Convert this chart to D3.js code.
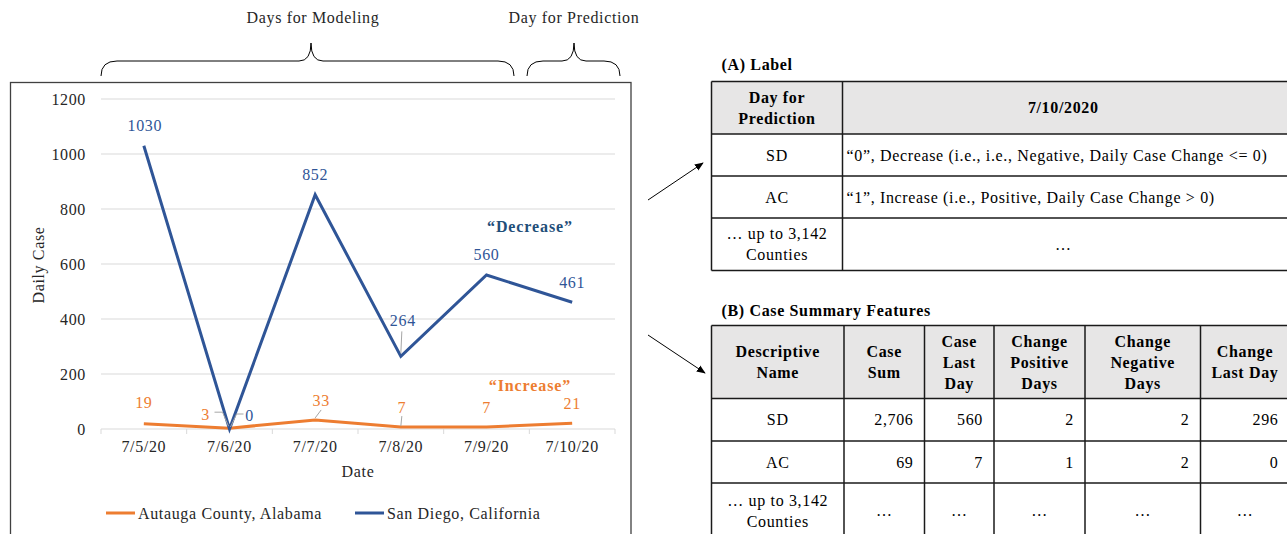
<!DOCTYPE html>
<html>
<head>
<meta charset="utf-8">
<script src="https://cdn.jsdelivr.net/npm/d3@7"></script>
<style>
  html, body { margin: 0; padding: 0; background: #fff; }
  svg { display: block; font-family: "Liberation Serif", "Times New Roman", serif; }
  text { letter-spacing: 0.65px; }
</style>
</head>
<body>
<svg id="fig" width="1287" height="534"></svg>
<script>
// ---- data ----
const dates = ['7/5/20', '7/6/20', '7/7/20', '7/8/20', '7/9/20', '7/10/20'];
const sanDiego = [1030, 0, 852, 264, 560, 461];
const autauga = [19, 3, 33, 7, 7, 21];
const yTicks = [0, 200, 400, 600, 800, 1000, 1200];
const seriesNames = ['Autauga County, Alabama', 'San Diego, California'];

const labelHeader = ['Day for\nPrediction', '7/10/2020'];
const labelRows = [
  ['SD', '\u201C0\u201D, Decrease (i.e., i.e., Negative, Daily Case Change <= 0)'],
  ['AC', '\u201C1\u201D, Increase (i.e., Positive, Daily Case Change > 0)'],
  ['\u2026 up to 3,142\nCounties', '\u2026']
];
const featHeader = ['Descriptive\nName', 'Case\nSum', 'Case\nLast\nDay', 'Change\nPositive\nDays', 'Change\nNegative\nDays', 'Change\nLast Day'];
const featRows = [
  ['SD', '2,706', '560', '2', '2', '296'],
  ['AC', '69', '7', '1', '2', '0'],
  ['\u2026 up to 3,142\nCounties', '\u2026', '\u2026', '\u2026', '\u2026', '\u2026']
];

// label placement (dx, dy from point) for data labels
const blueLabelOff = [[1, -20], [20, -14], [0, -20], [2, -36], [0, -21], [0, -20]];
const orangeLabelOff = [[0, -21], [-24, -14], [6, -20], [1, -20], [0, -20], [0, -20]];

const BLUE = '#2f5597';
const ORANGE = '#ed7d31';
const TXT = '#262626';

const svg = d3.select('#fig');

// arrow marker
svg.append('defs').append('marker')
  .attr('id', 'arr')
  .attr('viewBox', '0 0 10 10')
  .attr('refX', 9).attr('refY', 5)
  .attr('markerWidth', 9).attr('markerHeight', 9)
  .attr('orient', 'auto')
  .append('path')
  .attr('d', 'M0,1 L10,5 L0,9 Z')
  .attr('fill', '#000');

// ---- chart frame ----
svg.append('rect')
  .attr('x', 10.5).attr('y', 82.5)
  .attr('width', 620.5).attr('height', 470)
  .attr('fill', 'none')
  .attr('stroke', '#404040')
  .attr('stroke-width', 1.3);

const x = d3.scalePoint().domain(dates).range([101, 615]).padding(0.5);
const xb = d3.scaleBand().domain(dates).range([101, 615]);
const y = d3.scaleLinear().domain([0, 1200]).range([429, 99]);

// gridlines
svg.append('g')
  .selectAll('line')
  .data(yTicks.filter(d => d > 0))
  .enter().append('line')
  .attr('x1', 101).attr('x2', 615)
  .attr('y1', d => y(d)).attr('y2', d => y(d))
  .attr('stroke', '#d9d9d9').attr('stroke-width', 1);

// y axis labels
svg.append('g')
  .selectAll('text')
  .data(yTicks)
  .enter().append('text')
  .attr('x', 86).attr('y', d => y(d))
  .attr('dy', '0.35em')
  .attr('text-anchor', 'end')
  .style('font-size', '16px')
  .attr('fill', TXT)
  .text(d => d);

// x axis
const xAxis = svg.append('g').attr('transform', 'translate(0,429)');
xAxis.append('line')
  .attr('x1', 101).attr('x2', 615)
  .attr('stroke', '#d9d9d9');
xAxis.selectAll('.tk')
  .data(dates.map(d => xb(d)).concat([615]))
  .enter().append('line')
  .attr('x1', d => d).attr('x2', d => d)
  .attr('y1', 0).attr('y2', 5)
  .attr('stroke', '#d9d9d9');
xAxis.selectAll('text')
  .data(dates)
  .enter().append('text')
  .attr('x', d => x(d)).attr('y', 17)
  .attr('dy', '0.35em')
  .attr('text-anchor', 'middle')
  .style('font-size', '16px')
  .attr('fill', TXT)
  .text(d => d);

svg.append('text')
  .attr('x', 358).attr('y', 471).attr('dy', '0.35em')
  .attr('text-anchor', 'middle')
  .style('font-size', '16px').attr('fill', TXT)
  .text('Date');

svg.append('text')
  .attr('transform', 'translate(38,265) rotate(-90)')
  .attr('dy', '0.35em')
  .attr('text-anchor', 'middle')
  .style('font-size', '16px').attr('fill', TXT)
  .text('Daily Case');

// lines
const line = d3.line().x((d, i) => x(dates[i])).y(d => y(d));
svg.append('path').datum(autauga)
  .attr('d', line).attr('fill', 'none')
  .attr('stroke', ORANGE).attr('stroke-width', 3);
svg.append('path').datum(sanDiego)
  .attr('d', line).attr('fill', 'none')
  .attr('stroke', BLUE).attr('stroke-width', 3);

// leader lines (gray)
const leaders = svg.append('g').attr('stroke', '#a6a6a6').attr('stroke-width', 1).attr('fill', 'none');
// "3" at 7/6
leaders.append('path').attr('d', `M${x(dates[1]) - 15},${y(3) - 16} L${x(dates[1]) - 7},${y(3) - 16} L${x(dates[1]) - 1},${y(3) - 2}`);
// "0" at 7/6
leaders.append('path').attr('d', `M${x(dates[1]) + 14},${y(0) - 15} L${x(dates[1]) + 7},${y(0) - 15} L${x(dates[1]) + 1},${y(0) - 2}`);
// "264" at 7/8
leaders.append('line')
  .attr('x1', x(dates[3]) + 1).attr('x2', x(dates[3]))
  .attr('y1', y(264) - 25).attr('y2', y(264) - 3);
// "33" at 7/7
leaders.append('line')
  .attr('x1', x(dates[2]) + 6).attr('x2', x(dates[2]))
  .attr('y1', y(33) - 10).attr('y2', y(33) - 2);
// "7" at 7/8
leaders.append('line')
  .attr('x1', x(dates[3]) + 1).attr('x2', x(dates[3]))
  .attr('y1', y(7) - 11).attr('y2', y(7) - 1);

// data labels
svg.append('g').selectAll('text')
  .data(sanDiego)
  .enter().append('text')
  .attr('x', (d, i) => x(dates[i]) + blueLabelOff[i][0])
  .attr('y', (d, i) => y(d) + blueLabelOff[i][1])
  .attr('dy', '0.35em')
  .attr('text-anchor', 'middle')
  .style('font-size', '16px')
  .attr('fill', BLUE)
  .text(d => d);

svg.append('g').selectAll('text')
  .data(autauga)
  .enter().append('text')
  .attr('x', (d, i) => x(dates[i]) + orangeLabelOff[i][0])
  .attr('y', (d, i) => y(d) + orangeLabelOff[i][1])
  .attr('dy', '0.35em')
  .attr('text-anchor', 'middle')
  .style('font-size', '16px')
  .attr('fill', ORANGE)
  .text(d => d);

// annotations
svg.append('text')
  .attr('x', 530).attr('y', 226).attr('dy', '0.35em')
  .attr('text-anchor', 'middle')
  .style('font-size', '16px').style('font-weight', 'bold')
  .style('letter-spacing', '0.9px')
  .attr('fill', '#1f4e79')
  .text('\u201CDecrease\u201D');
svg.append('text')
  .attr('x', 530).attr('y', 385).attr('dy', '0.35em')
  .attr('text-anchor', 'middle')
  .style('font-size', '16px').style('font-weight', 'bold')
  .style('letter-spacing', '0.9px')
  .attr('fill', ORANGE)
  .text('\u201CIncrease\u201D');

// legend
const legendItems = [
  { name: seriesNames[0], color: ORANGE, x: 106 },
  { name: seriesNames[1], color: BLUE, x: 355 }
];
const lg = svg.append('g').attr('transform', 'translate(0,513)');
legendItems.forEach(it => {
  lg.append('line')
    .attr('x1', it.x).attr('x2', it.x + 29)
    .attr('stroke', it.color).attr('stroke-width', 3);
  lg.append('text')
    .attr('x', it.x + 32).attr('dy', '0.35em')
    .style('font-size', '16px').attr('fill', TXT)
    .text(it.name);
});

// braces
function brace(x1, x2, xm) {
  const yb = 76, ym = 61, yt = 43;
  return `M${x1},${yb} Q${x1},${ym} ${x1 + 16},${ym} L${xm - 12},${ym} Q${xm},${ym} ${xm},${yt} ` +
         `Q${xm},${ym} ${xm + 12},${ym} L${x2 - 16},${ym} Q${x2},${ym} ${x2},${yb}`;
}
svg.append('path').attr('d', brace(101, 514, 311))
  .attr('fill', 'none').attr('stroke', '#000').attr('stroke-width', 1);
svg.append('path').attr('d', brace(527, 620, 574))
  .attr('fill', 'none').attr('stroke', '#000').attr('stroke-width', 1);
svg.append('text').attr('x', 313).attr('y', 17).attr('dy', '0.35em')
  .attr('text-anchor', 'middle').style('font-size', '16px').attr('fill', TXT)
  .text('Days for Modeling');
svg.append('text').attr('x', 574).attr('y', 17).attr('dy', '0.35em')
  .attr('text-anchor', 'middle').style('font-size', '16px').attr('fill', TXT)
  .text('Day for Prediction');

// arrows
svg.append('line').attr('x1', 648).attr('y1', 200).attr('x2', 703).attr('y2', 163)
  .attr('stroke', '#000').attr('stroke-width', 1).attr('marker-end', 'url(#arr)');
svg.append('line').attr('x1', 648).attr('y1', 335).attr('x2', 705).attr('y2', 373)
  .attr('stroke', '#000').attr('stroke-width', 1).attr('marker-end', 'url(#arr)');

// ---- tables ----
function drawTable(opts) {
  const g = svg.append('g');
  const cols = opts.cols, rowsY = opts.rowsY;
  g.append('text')
    .attr('x', cols[0] + 10).attr('y', opts.titleY).attr('dy', '0.35em')
    .style('font-size', '16px').style('font-weight', 'bold').attr('fill', '#000')
    .text(opts.title);
  // header fill
  g.append('rect')
    .attr('x', cols[0]).attr('y', rowsY[0])
    .attr('width', cols[cols.length - 1] - cols[0]).attr('height', rowsY[1] - rowsY[0])
    .attr('fill', '#e7e6e6');
  const all = [opts.header].concat(opts.rows);
  all.forEach((row, ri) => {
    const y0 = rowsY[ri], y1 = rowsY[ri + 1];
    row.forEach((cell, ci) => {
      const lines = cell.split('\n');
      const align = (ri > 0 && opts.align) ? opts.align(ri - 1, ci) : 'middle';
      const xc = align === 'end' ? cols[ci + 1] - 11
        : align === 'start' ? cols[ci] + 4
        : (cols[ci] + (opts.centerOverride && opts.centerOverride[ci] || cols[ci + 1])) / 2;
      const lh = 21;
      const top = (y0 + y1) / 2 - (lines.length - 1) * lh / 2;
      const t = g.append('text')
        .attr('text-anchor', align)
        .style('font-size', '16px')
        .style('font-weight', ri === 0 ? 'bold' : 'normal')
        .attr('fill', '#000');
      lines.forEach((ln, li) => {
        t.append('tspan').attr('x', xc).attr('y', top + li * lh).attr('dy', '0.35em').text(ln);
      });
    });
  });
  // borders
  const bottom = rowsY[rowsY.length - 1];
  rowsY.forEach(yy => {
    g.append('line').attr('x1', cols[0]).attr('x2', cols[cols.length - 1])
      .attr('y1', yy).attr('y2', yy).attr('stroke', '#1a1a1a').attr('stroke-width', 1.5);
  });
  cols.forEach(xx => {
    g.append('line').attr('x1', xx).attr('x2', xx)
      .attr('y1', rowsY[0]).attr('y2', bottom).attr('stroke', '#1a1a1a').attr('stroke-width', 1.5);
  });
}

drawTable({
  title: '(A) Label', titleY: 64,
  cols: [711.5, 842.5, 1292],
  centerOverride: { 1: 1284 },
  rowsY: [81.5, 134, 176, 218, 270.5],
  header: labelHeader,
  rows: labelRows,
  align: (r, c) => (c === 1 && r < 2) ? 'start' : 'middle'
});

drawTable({
  title: '(B) Case Summary Features', titleY: 310,
  cols: [711.5, 844, 924.5, 994, 1085, 1200.5, 1289.5],
  rowsY: [325.5, 398.5, 441, 483, 538],
  header: featHeader,
  rows: featRows,
  align: (r, c) => (c > 0 && r < 2) ? 'end' : 'middle'
});
</script>
</body>
</html>
